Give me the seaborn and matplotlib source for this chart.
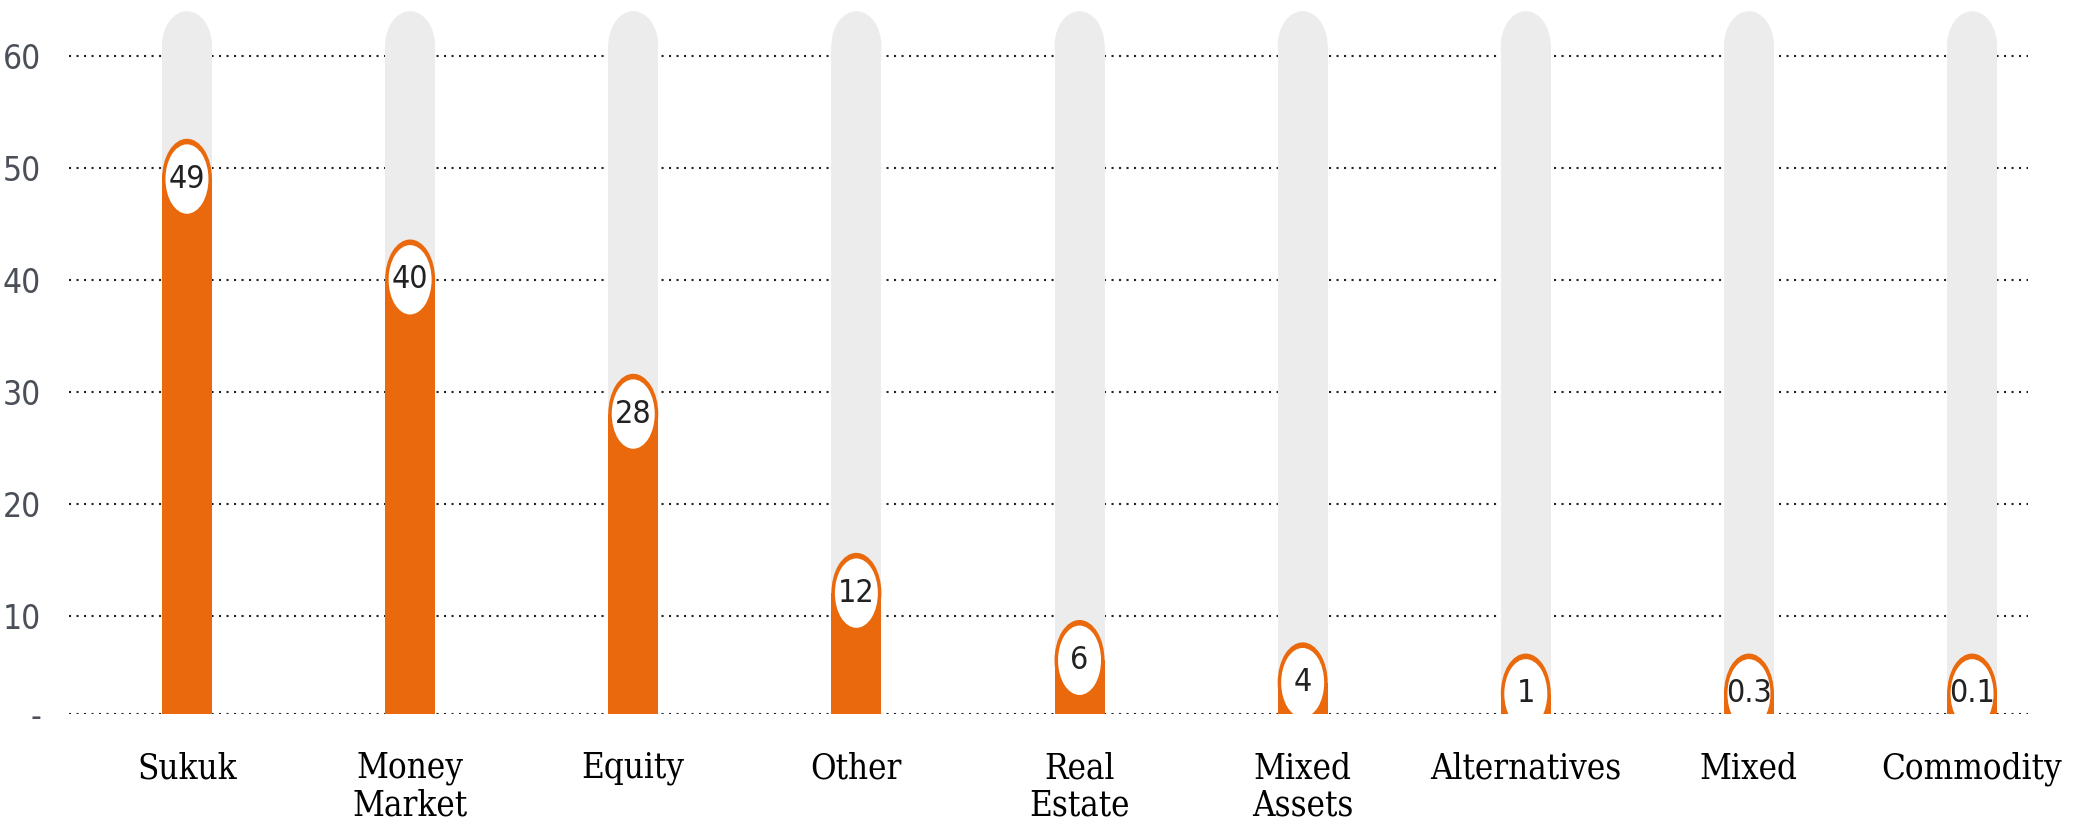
import matplotlib
matplotlib.use("Agg")
import matplotlib.pyplot as plt
from matplotlib.patches import Ellipse
import pandas as pd
import seaborn as sns

# data
categories = ["Sukuk", "Money\nMarket", "Equity", "Other", "Real\nEstate",
              "Mixed\nAssets", "Alternatives", "Mixed", "Commodity"]
values = [49, 40, 28, 12, 6, 4, 1, 0.3, 0.1]
value_labels = ["49", "40", "28", "12", "6", "4", "1", "0.3", "0.1"]
y_ticks = [10, 20, 30, 40, 50, 60]
track_top = 64

ORANGE = "#e9690c"
GREY = "#ebeceb"
BASE = 1.2          # where the dotted baseline sits
CAP = 3.1           # half height of the rounded caps (y units)
BAR_W = 0.224

df = pd.DataFrame({"category": categories, "value": values})
# small values are lifted so the label bubble stays visible
df["bubble"] = df["value"].clip(lower=3.0)
df["track"] = track_top - CAP

sns.set_style("white")
fig = plt.figure(figsize=(20.82, 8.26), dpi=100)
ax = fig.add_axes([0.033, 0.1356, 0.941, 0.8644])

sns.barplot(data=df, x="category", y="track", color=GREY, width=BAR_W,
            saturation=1, linewidth=0, ax=ax, zorder=2)
sns.barplot(data=df, x="category", y="bubble", color=ORANGE, width=BAR_W,
            saturation=1, linewidth=0, ax=ax, zorder=3)

n = len(df)
grey_bars = ax.patches[:n]
orange_bars = ax.patches[n:2 * n]

for bar in grey_bars:
    xc = bar.get_x() + bar.get_width() / 2
    ax.add_patch(Ellipse((xc, bar.get_height()), bar.get_width(), 2 * CAP,
                         facecolor=GREY, edgecolor="none", zorder=2))

for i, bar in enumerate(orange_bars):
    xc = bar.get_x() + bar.get_width() / 2
    yc = bar.get_height()
    ax.add_patch(Ellipse((xc, yc), bar.get_width(), 2 * CAP + 1.0,
                         facecolor=ORANGE, edgecolor="none", zorder=3))
    ax.add_patch(Ellipse((xc, yc), bar.get_width() * 0.86, 2 * CAP,
                         facecolor="white", edgecolor="none", zorder=4))
    ax.text(xc, yc, value_labels[i], ha="center", va="center", fontsize=23,
            color="#222222", family="DejaVu Sans", fontstretch="condensed",
            zorder=5)

ax.set_xlim(-0.53, 8.25)
ax.set_ylim(BASE, 65)

ax.set_yticks([BASE] + y_ticks)
ax.set_yticklabels(["-"] + [str(t) for t in y_ticks], family="DejaVu Sans",
                   fontstretch="condensed", fontsize=24, color="#4a4f58")
ax.tick_params(axis="y", length=0, pad=20)
ax.tick_params(axis="x", length=0, pad=27)
ax.set_xticks(range(n))
ax.set_xticklabels(categories, family="DejaVu Serif", fontstretch="condensed",
                   fontsize=25, color="black", va="top", linespacing=1.12)

ax.yaxis.grid(True, linestyle=(0, (1, 2.6)), color="#222222", linewidth=1.5)
ax.xaxis.grid(False)
ax.set_axisbelow(True)
ax.set_xlabel("")
ax.set_ylabel("")
sns.despine(ax=ax, left=True, bottom=True)

fig.savefig("out.png", dpi=100)
